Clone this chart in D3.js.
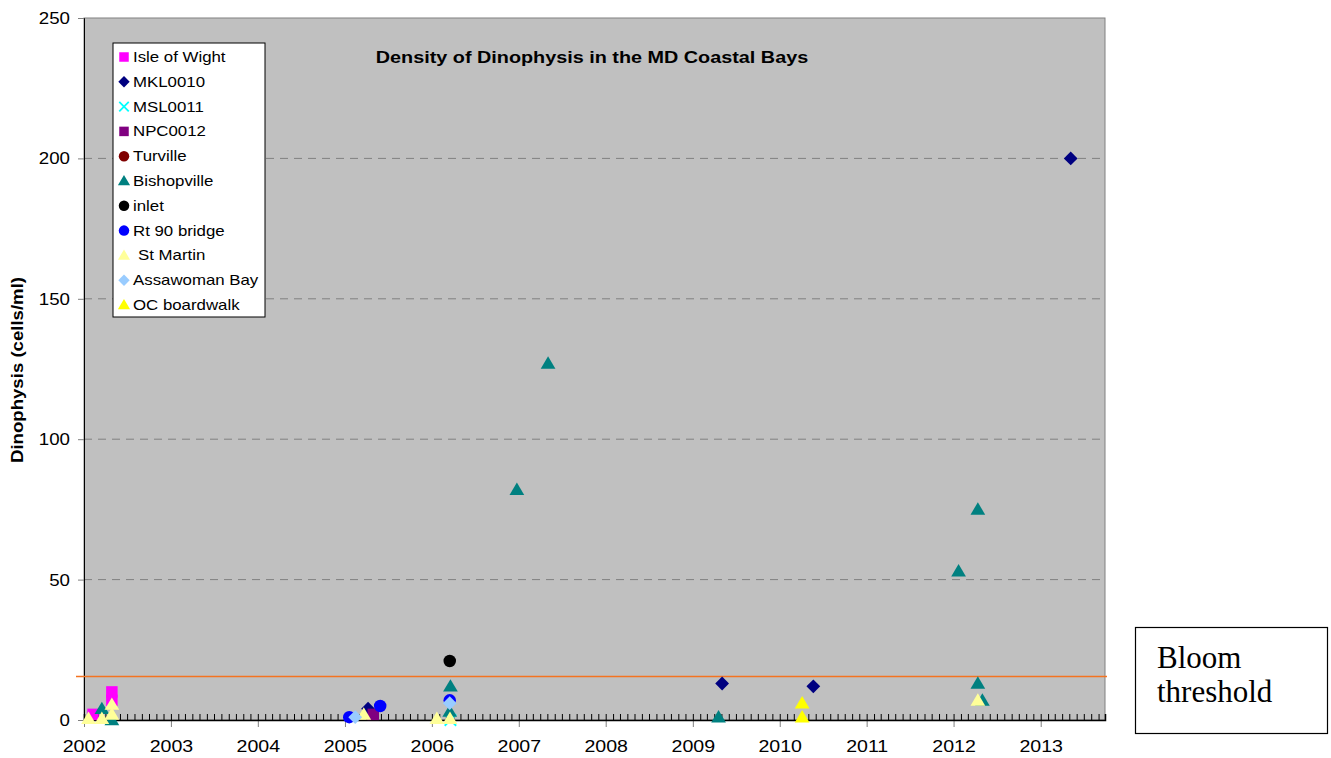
<!DOCTYPE html>
<html><head><meta charset="utf-8">
<script src="https://cdn.jsdelivr.net/npm/d3@7/dist/d3.min.js"></script>
<style>body{margin:0;background:#fff;} svg{display:block;}</style>
</head><body>
<svg id="c" width="1331" height="758"></svg>
<script>
// ---------- data ----------
const seriesNames = ["Isle of Wight","MKL0010","MSL0011","NPC0012","Turville","Bishopville","inlet","Rt 90 bridge","St Martin","Assawoman Bay","OC boardwalk"];
const isleOfWight = [["2002-02-08",2],["2002-04-28",10],["2002-04-28",7]];
const mkl0010 = [["2005-04-08",4],["2009-05-04",13],["2010-05-22",12],["2013-05-07",200]];
const msl0011 = [["2006-03-20",0]];
const npc0012 = [["2005-04-30",2]];
const turville = [];
const bishopville = [["2002-03-17",4],["2002-04-28",0],["2006-03-20",12],["2006-03-17",3],["2006-12-24",82],["2007-05-04",127],["2009-04-19",1],["2012-01-22",53],["2012-04-12",75],["2012-04-12",13],["2012-05-01",7]];
const inlet = [["2006-03-17",21]];
const rt90 = [["2005-01-19",1],["2005-05-29",5],["2006-03-17",7]];
const stMartin = [["2002-01-20",0.5],["2002-03-17",0.5],["2002-04-28",5.5],["2002-04-28",2],["2005-03-21",2],["2006-01-22",0.5],["2006-03-18",0.5],["2012-04-12",7]];
const assawoman = [["2005-02-13",1],["2006-03-17",6]];
const ocBoardwalk = [["2010-04-05",6],["2010-04-05",1]];
const seriesData = [isleOfWight,mkl0010,msl0011,npc0012,turville,bishopville,inlet,rt90,stMartin,assawoman,ocBoardwalk];
const seriesColors = ["#ff00ff","#000080","#00ffff","#800080","#800000","#008080","#000000","#0000ff","#ffff99","#99ccff","#ffff00"];
const seriesShapes = ["square","diamond","x","square","circle","triangle","circle","circle","triangle","diamond","triangle"];
const yTicks = [0,50,100,150,200,250];
const xDomain = ["2002-01-01","2013-09-28"];
const bloomThreshold = 15.5;
const chartTitle = "Density of Dinophysis in the MD Coastal Bays";
const yTitle = "Dinophysis (cells/ml)";
const noteLines = ["Bloom","threshold"];

// ---------- layout ----------
const svg = d3.select("#c");
const L = 84, R = 1105, T = 18, B = 720;
const FONT = "Liberation Sans, Arial, sans-serif";
const parse = d3.timeParse("%Y-%m-%d");
const x = d3.scaleTime().domain(xDomain.map(parse)).range([L, R]);
const y = d3.scaleLinear().domain([0, 250]).range([B, T]);

// widen text horizontally (reference glyphs are wider than Liberation Sans)
function widen(sel, f){
  sel.each(function(){
    const w = this.getComputedTextLength();
    d3.select(this).attr("textLength", w*f).attr("lengthAdjust","spacingAndGlyphs");
  });
}

svg.append("rect").attr("x",L).attr("y",T).attr("width",R-L).attr("height",B-T)
  .attr("fill","#c0c0c0").attr("stroke","#808080").attr("stroke-width",1);

// gridlines
svg.append("g").selectAll("line").data(yTicks.filter(v=>v>0&&v<250)).join("line")
  .attr("x1",L).attr("x2",R).attr("y1",d=>y(d)).attr("y2",d=>y(d))
  .attr("stroke","#808080").attr("stroke-width",1).attr("stroke-dasharray","8,6");

// y axis
const yAxis = svg.append("g").attr("transform",`translate(${L},0)`)
  .call(d3.axisLeft(y).tickValues(yTicks).tickSize(6).tickPadding(8));
yAxis.select(".domain").attr("stroke","#000");
yAxis.selectAll(".tick line").attr("stroke","#808080");
yAxis.selectAll("text").attr("font-family",FONT).attr("font-size",17).attr("fill","#000");
widen(yAxis.selectAll("text"), 1.1);

// x axis: major (year) ticks downward, minor (month) ticks upward
const xMajor = svg.append("g").attr("transform",`translate(0,${B})`)
  .call(d3.axisBottom(x).ticks(d3.timeYear.every(1)).tickFormat(d3.timeFormat("%Y")).tickSize(7).tickPadding(13));
xMajor.select(".domain").remove();
xMajor.selectAll(".tick line").attr("stroke","#808080");
xMajor.selectAll("text").attr("font-family",FONT).attr("font-size",17).attr("fill","#000");
widen(xMajor.selectAll("text"), 1.15);
const xMinor = svg.append("g").attr("transform",`translate(0,${B})`)
  .call(d3.axisTop(x).ticks(d3.timeMonth.every(1)).tickFormat("").tickSize(6));
xMinor.select(".domain").attr("stroke","#000").attr("stroke-width",1.5);
xMinor.selectAll(".tick line").attr("stroke","#000");

// threshold line
svg.append("line").attr("x1",L-8).attr("x2",R+2).attr("y1",y(bloomThreshold)).attr("y2",y(bloomThreshold))
  .attr("stroke","#f47321").attr("stroke-width",1.5);

// markers
function marker(g, shape, color, s){
  if(shape==="square") g.append("rect").attr("x",-s/2).attr("y",-s/2).attr("width",s).attr("height",s).attr("fill",color);
  else if(shape==="diamond") g.append("path").attr("d",`M0,${-s*0.6}L${s*0.6},0L0,${s*0.6}L${-s*0.6},0Z`).attr("fill",color);
  else if(shape==="circle") g.append("circle").attr("r",s/2+0.5).attr("fill",color);
  else if(shape==="triangle") g.append("path").attr("d",`M0,${-s*0.62}L${s*0.64},${s*0.46}L${-s*0.64},${s*0.46}Z`).attr("fill",color);
  else if(shape==="x") g.append("path").attr("d",`M${-s/2},${-s/2}L${s/2},${s/2}M${s/2},${-s/2}L${-s/2},${s/2}`).attr("stroke",color).attr("stroke-width",1.8).attr("fill","none");
}
seriesData.forEach((data,i)=>{
  const g = svg.append("g");
  data.forEach(([d,v])=>{
    const m = g.append("g").attr("transform",`translate(${x(parse(d))},${y(v)})`);
    marker(m, seriesShapes[i], seriesColors[i], 11.5);
  });
});

// legend
const lg = svg.append("g");
lg.append("rect").attr("x",113).attr("y",43).attr("width",152).attr("height",274).attr("fill","#fff").attr("stroke","#000").attr("stroke-width",1);
seriesNames.forEach((n,i)=>{
  const yy = 57 + i*24.8;
  const m = lg.append("g").attr("transform",`translate(124,${yy})`);
  marker(m, seriesShapes[i], seriesColors[i], 9.5);
  const t = lg.append("text").attr("x", n==="St Martin"?138:133).attr("y",yy+5).text(n)
    .attr("font-family",FONT).attr("font-size",14.5);
  widen(t, 1.16);
});

// title
const tt = svg.append("text").attr("x",592).attr("y",63).attr("text-anchor","middle").text(chartTitle)
  .attr("font-family",FONT).attr("font-size",16.5).attr("font-weight","bold");
widen(tt, 1.2);

// y axis title
const yt = svg.append("text").attr("transform","translate(23,370) rotate(-90)").attr("text-anchor","middle").text(yTitle)
  .attr("font-family",FONT).attr("font-size",16).attr("font-weight","bold");
yt.attr("textLength",186).attr("lengthAdjust","spacingAndGlyphs");

// note box
svg.append("rect").attr("x",1135.5).attr("y",627.5).attr("width",192).attr("height",106).attr("fill","#fff").attr("stroke","#000").attr("stroke-width",1.2);
noteLines.forEach((t,i)=>{
  svg.append("text").attr("x",1157).attr("y",668+i*34).text(t)
    .attr("font-family","Liberation Serif, Times New Roman, serif").attr("font-size",31);
});
</script>
</body></html>
